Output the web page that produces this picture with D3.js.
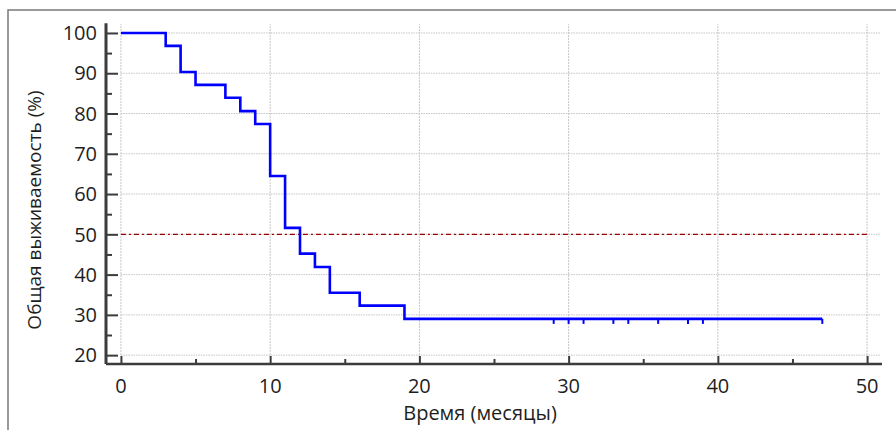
<!DOCTYPE html>
<html>
<head>
<meta charset="utf-8">
<script src="https://cdn.jsdelivr.net/npm/d3@7"></script>
<style>
  html, body { margin: 0; padding: 0; background: #fff; }
  svg { display: block; font-family: "Open Sans", "Noto Sans", sans-serif; }
</style>
</head>
<body>
<div id="chart"></div>
<script>
// Kaplan–Meier curve: overall survival vs. time (months)
const times = [0, 3, 4, 5, 7, 8, 9, 10, 11, 12, 13, 14, 16, 19, 47];
const survival = [100, 96.8, 90.3, 87.1, 83.9, 80.6, 77.4, 64.5, 51.6, 45.2, 41.9, 35.5, 32.3, 29.0, 29.0];
const censorTimes = [29, 30, 31, 33, 34, 36, 38, 39, 47];
const censorSurv = [29.0, 29.0, 29.0, 29.0, 29.0, 29.0, 29.0, 29.0, 29.0];
const xTicks = [0, 10, 20, 30, 40, 50];
const xMinor = [5, 15, 25, 35, 45];
const yTicks = [20, 30, 40, 50, 60, 70, 80, 90, 100];
const yMinor = [25, 35, 45, 55, 65, 75, 85, 95];
const medianLevel = 50;
const xLabel = "Время (месяцы)";
const yLabel = "Общая выживаемость (%)";

const W = 896, H = 430;
const svg = d3.select("#chart").append("svg").attr("width", W).attr("height", H);

// outer frame (runs past the right/bottom edge)
svg.append("rect").attr("x", 8).attr("y", 10).attr("width", W).attr("height", H)
  .attr("fill", "none").attr("stroke", "#7a7a7a").attr("stroke-width", 1.5);

const x = d3.scaleLinear().domain([-1, 51]).range([106, 882]);
const y = d3.scaleLinear().domain([17.8, 102.4]).range([364, 23.3]);

const AX = "#3c3c3c";
const TXT = "#1e1e1e";

// grid
const grid = svg.append("g");
grid.selectAll("line.h").data(yTicks).join("line").attr("class", "h")
  .attr("x1", x(0)).attr("x2", x(50.9))
  .attr("y1", d => y(d)).attr("y2", d => y(d))
  .attr("stroke", "#c4c4c4").attr("stroke-width", 1).attr("stroke-dasharray", "1.5,1");
grid.selectAll("line.v").data(xTicks).join("line").attr("class", "v")
  .attr("x1", d => x(d)).attr("x2", d => x(d))
  .attr("y1", y(20)).attr("y2", y(102.2))
  .attr("stroke", "#c4c4c4").attr("stroke-width", 1).attr("stroke-dasharray", "2,1");

// 50% reference line
svg.append("line")
  .attr("x1", x(0)).attr("x2", x(50))
  .attr("y1", y(medianLevel)).attr("y2", y(medianLevel))
  .attr("stroke", "#9b0000").attr("stroke-width", 1.2).attr("stroke-dasharray", "5,3,2,3");

// axes: ticks point inward
const gx = svg.append("g").attr("transform", `translate(0,${y.range()[0]})`)
  .call(d3.axisTop(x).tickValues(xTicks).tickSize(8).tickFormat(""));
gx.append("g").call(d3.axisTop(x).tickValues(xMinor).tickSize(5).tickFormat(""));
gx.selectAll(".domain").attr("d", `M${x.range()[0]},0H${x.range()[1]}`);
gx.selectAll("path, line").attr("stroke", AX);
gx.select(".domain").attr("stroke-width", 2.5);
gx.selectAll(".tick line").attr("stroke-width", 2);
gx.selectAll("g > .domain").filter((d, i) => i > 0).remove();

const gy = svg.append("g").attr("transform", `translate(${x.range()[0]},0)`)
  .call(d3.axisRight(y).tickValues(yTicks).tickSize(12).tickFormat(""));
gy.append("g").call(d3.axisRight(y).tickValues(yMinor).tickSize(6).tickFormat(""));
gy.selectAll(".domain").attr("d", `M0,${y.range()[1]}V${y.range()[0]}`);
gy.selectAll("path, line").attr("stroke", AX);
gy.select(".domain").attr("stroke-width", 3);
gy.selectAll(".tick line").attr("stroke-width", 2);
gy.selectAll("g > .domain").filter((d, i) => i > 0).remove();

// tick labels
svg.append("g").selectAll("text").data(xTicks).join("text")
  .attr("x", d => x(d)).attr("y", 393)
  .attr("text-anchor", "middle").attr("font-size", 20).attr("fill", TXT)
  .text(d => d);
svg.append("g").selectAll("text").data(yTicks).join("text")
  .attr("x", 97).attr("y", d => y(d)).attr("dy", "0.36em")
  .attr("text-anchor", "end").attr("font-size", 20).attr("fill", TXT)
  .text(d => d);

// axis titles
svg.append("text").attr("x", 480).attr("y", 420)
  .attr("text-anchor", "middle").attr("font-size", 20).attr("fill", TXT)
  .text(xLabel);
svg.append("text").attr("transform", "translate(41,210) rotate(-90)")
  .attr("text-anchor", "middle").attr("font-size", 19).attr("fill", TXT)
  .text(yLabel);

// survival step curve
const pts = times.map((t, i) => [t, survival[i]]);
const line = d3.line().x(d => x(d[0])).y(d => y(d[1])).curve(d3.curveStepAfter);
svg.append("path").datum(pts).attr("d", line)
  .attr("fill", "none").attr("stroke", "#0000ff").attr("stroke-width", 2.6);

// censoring marks
svg.append("g").selectAll("line").data(censorTimes).join("line")
  .attr("x1", d => x(d)).attr("x2", d => x(d))
  .attr("y1", (d, i) => y(censorSurv[i])).attr("y2", (d, i) => y(censorSurv[i]) + 5)
  .attr("stroke", "#0000ff").attr("stroke-width", 2);
</script>
</body>
</html>
